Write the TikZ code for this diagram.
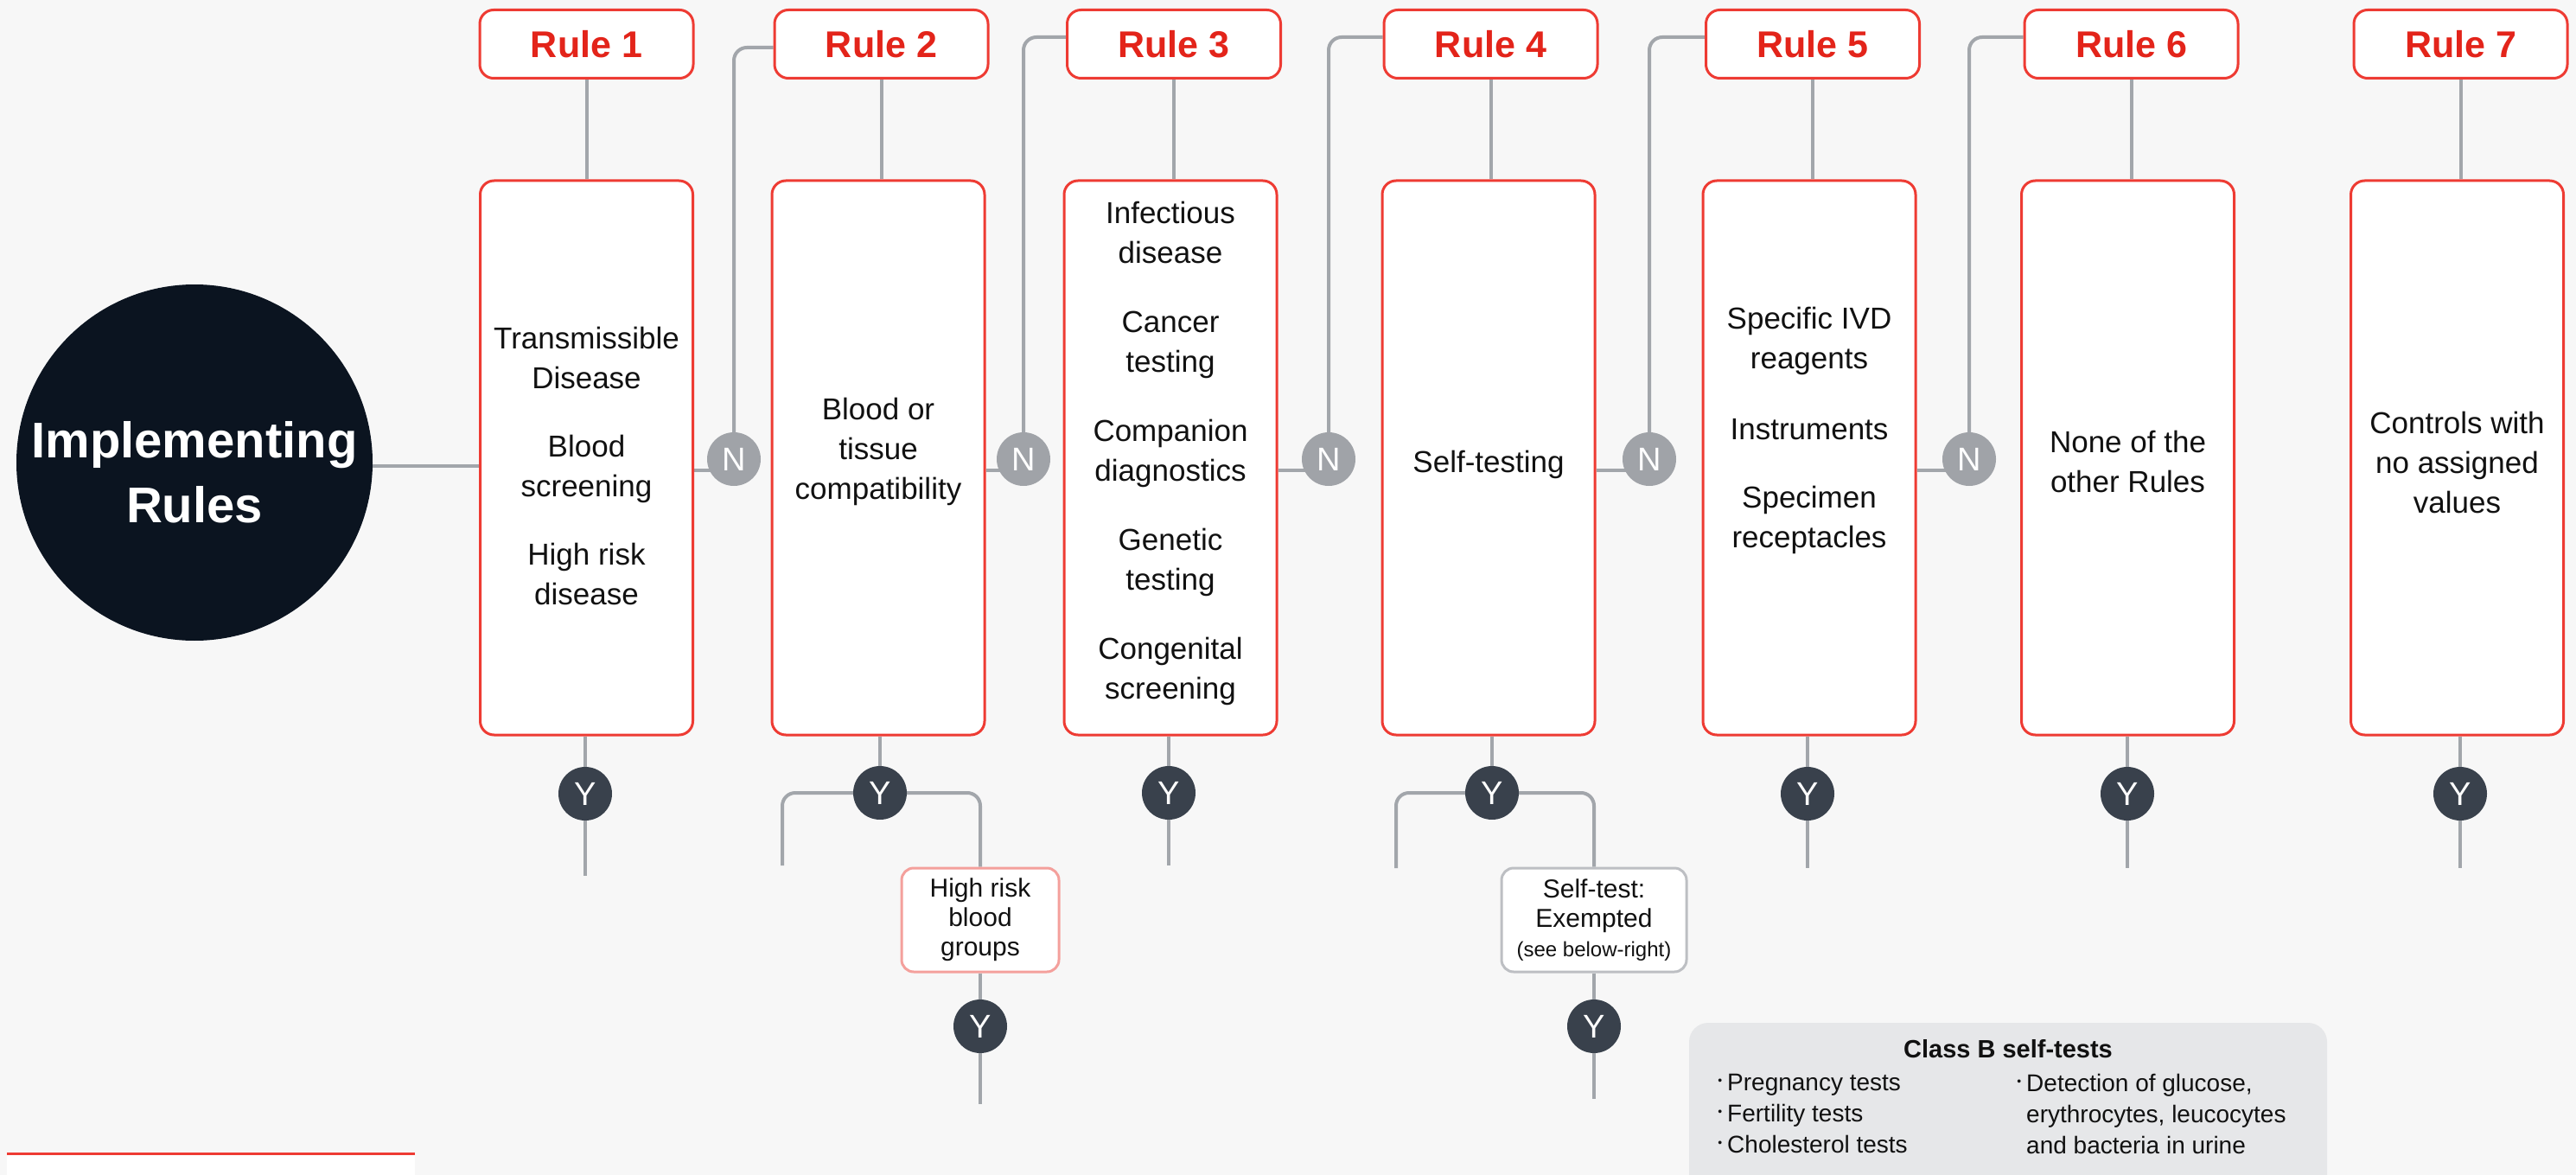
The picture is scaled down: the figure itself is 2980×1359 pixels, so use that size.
\documentclass[tikz,border=0pt]{standalone}
\usepackage{fontspec}
\setmainfont{Liberation Sans}
\usetikzlibrary{calc}
\pgfdeclarelayer{bottom}
\pgfdeclarelayer{background}
\pgfsetlayers{bottom,background,main}
\definecolor{bgc}{HTML}{F7F7F7}
\definecolor{rb}{HTML}{EE3B33}
\definecolor{rt}{HTML}{E3241A}
\definecolor{lc}{HTML}{A2A6AB}
\definecolor{nc}{HTML}{A0A3A8}
\definecolor{yc}{HTML}{39414C}
\definecolor{navy}{HTML}{0B1420}
\definecolor{cbg}{HTML}{E6E7E9}
\definecolor{hrb}{HTML}{F4A09C}
\definecolor{stb}{HTML}{BDBFC3}
\definecolor{txt}{HTML}{111111}
\newcommand{\bulx}{\llap{\raisebox{7pt}{\fontsize{14}{14}\selectfont •}\hspace{6pt}}}
\begin{document}
\begin{tikzpicture}[x=1pt,y=-1pt,
 hdr/.style={draw=rb, line width=3pt, rounded corners=16pt, fill=white, minimum width=247pt, minimum height=79pt, inner sep=0pt, text=rt, font=\fontsize{43}{50}\selectfont\bfseries},
 cbox/.style={draw=rb, line width=3pt, rounded corners=16pt, fill=white, minimum width=246pt, minimum height=641pt, inner sep=0pt},
 ctext/.style={align=center, inner sep=0pt, text=txt, font=\fontsize{35}{46}\selectfont},
 ncirc/.style={circle, fill=nc, minimum size=62pt, inner sep=0pt, text=white, font=\fontsize{38}{38}\selectfont},
 ycirc/.style={ncirc, fill=yc},
 conn/.style={draw=lc, line width=4pt},
 elbow/.style={conn, rounded corners=15pt},
 smallbox/.style={line width=3pt, rounded corners=14pt, fill=white, inner sep=0pt, align=center, text=txt, minimum height=120pt},
]
\useasboundingbox (0,0) rectangle (2980,1359);
\begin{pgfonlayer}{bottom}
\fill[bgc] (0,0) rectangle (2980,1359);
\end{pgfonlayer}

% main circle
\node[circle, fill=navy, minimum size=412pt, inner sep=0pt] (main) at (225,535) {};
\node[align=center, text=white, inner sep=0pt, font=\fontsize{58}{75}\selectfont\bfseries] (maintext) at (225,546) {Implementing\\Rules};

% headers
\node[hdr] (h1) at (678.5,51) {Rule 1};
\node[hdr] (h2) at (1019.5,51) {Rule 2};
\node[hdr] (h3) at (1358,51) {Rule 3};
\node[hdr] (h4) at (1724.5,51) {Rule 4};
\node[hdr] (h5) at (2097,51) {Rule 5};
\node[hdr] (h6) at (2465.5,51) {Rule 6};
\node[hdr] (h7) at (2846.5,51) {Rule 7};

% content boxes
\node[cbox] (b1) at (678.5,529.5) {};
\node[cbox] (b2) at (1016,529.5) {};
\node[cbox] (b3) at (1354,529.5) {};
\node[cbox] (b4) at (1722,529.5) {};
\node[cbox] (b5) at (2093,529.5) {};
\node[cbox] (b6) at (2461.5,529.5) {};
\node[cbox] (b7) at (2842.5,529.5) {};

% content texts
\node[ctext] (t1) at (678.5,539) {Transmissible\\Disease\\[33pt]Blood\\screening\\[33pt]High risk\\disease};
\node[ctext] (t2) at (1016,522) {Blood or\\tissue\\compatibility};
\node[ctext] (t3) at (1354,524) {Infectious\\disease\\[34pt]Cancer\\testing\\[34pt]Companion\\diagnostics\\[34pt]Genetic\\testing\\[34pt]Congenital\\screening};
\node[ctext] (t4) at (1722,537) {Self-testing};
\node[ctext] (t5) at (2093,498) {Specific IVD\\reagents\\[36pt]Instruments\\[33pt]Specimen\\receptacles};
\node[ctext] (t6) at (2461.5,534) {None of the\\other Rules};
\node[ctext] (t7) at (2842.5,535) {Controls with\\no assigned\\values};

% N circles
\node[ncirc] (n1) at (849,531) {N};
\node[ncirc] (n2) at (1184,531) {N};
\node[ncirc] (n3) at (1537,531) {N};
\node[ncirc] (n4) at (1908,531) {N};
\node[ncirc] (n5) at (2278,531) {N};

% Y circles
\node[ycirc] (y1) at (677,918) {Y};
\node[ycirc] (y2) at (1018,917) {Y};
\node[ycirc] (y3) at (1352,917) {Y};
\node[ycirc] (y4) at (1726,917) {Y};
\node[ycirc] (y5) at (2091,918) {Y};
\node[ycirc] (y6) at (2461,918) {Y};
\node[ycirc] (y7) at (2846,918) {Y};

% sub boxes
\node[smallbox, draw=hrb, minimum width=182pt, font=\fontsize{30}{34}\selectfont] (hr) at (1134,1064) {High risk\\blood\\groups};
\node[smallbox, draw=stb, minimum width=214pt, font=\fontsize{30}{34}\selectfont] (st) at (1844,1064) {Self-test:\\Exempted\\{\fontsize{24}{28}\selectfont (see below-right)}};
\node[ycirc] (y2b) at (1134,1187) {Y};
\node[ycirc] (y4b) at (1844,1187) {Y};

% free ends
\coordinate (e1) at (677,1013);
\coordinate (e3) at (1352,1001);
\coordinate (e5) at (2091,1004);
\coordinate (e6) at (2461,1004);
\coordinate (e7) at (2846,1004);
\coordinate (l2) at (905,1001);
\coordinate (l4) at (1615,1004);
\coordinate (e2b) at (1134,1277);
\coordinate (e4b) at (1844,1271);

% class B box
\node[fill=cbg, rounded corners=22pt, minimum width=738pt, minimum height=207pt, inner sep=0pt] (cb) at (2323,1286.5) {};
\node[font=\fontsize{29}{34}\selectfont\bfseries, text=txt, inner sep=0pt] (cbt) at (2323,1213) {Class B self-tests};
\node[anchor=north west, align=left, inner sep=0pt, text=txt, font=\fontsize{28}{36}\selectfont] (cbl) at (1998,1242) {\bulx Pregnancy tests\\\bulx Fertility tests\\\bulx Cholesterol tests};
\node[anchor=north west, align=left, inner sep=0pt, text=txt, font=\fontsize{28}{36}\selectfont] (cbr) at (2344,1242) {\bulx Detection of glucose,\\erythrocytes, leucocytes\\and bacteria in urine};

% bottom-left partial box
\fill[white] (8,1334) rectangle (480,1370);
\draw[rb, line width=3pt] (8,1334) -- (480,1334);

\begin{pgfonlayer}{background}
\draw[conn] ([yshift=-4pt]main.east) -- ([yshift=-4pt]main.east -| b1.west);
\foreach \i in {1,...,7}{
  \draw[conn] (h\i.south) -- (h\i.south |- b\i.north);
}
\foreach \i in {1,...,7}{
  \draw[conn] (y\i |- b\i.south) -- (y\i);
}
\foreach \i/\j in {1/2,2/3,3/4,4/5,5/6}{
  \draw[conn] ([yshift=-14pt]b\i.east) -- ([yshift=-14pt]b\i.east -| n\i);
}
\draw[elbow] (n1) |- ([yshift=-4pt]h2.west);
\draw[elbow] (n2) |- ([yshift=8pt]h3.west);
\draw[elbow] (n3) |- ([yshift=8pt]h4.west);
\draw[elbow] (n4) |- ([yshift=8pt]h5.west);
\draw[elbow] (n5) |- ([yshift=8pt]h6.west);
\draw[conn] (y1) -- (e1);
\draw[conn] (y3) -- (e3);
\draw[conn] (y5) -- (e5);
\draw[conn] (y6) -- (e6);
\draw[conn] (y7) -- (e7);
\draw[elbow] (y2) -| (l2);
\draw[elbow] (y2) -| (hr.north);
\draw[elbow] (y4) -| (l4);
\draw[elbow] (y4) -| (st.north);
\draw[conn] (hr.south) -- (y2b) -- (e2b);
\draw[conn] (st.south) -- (y4b) -- (e4b);
\end{pgfonlayer}
\end{tikzpicture}
\end{document}
